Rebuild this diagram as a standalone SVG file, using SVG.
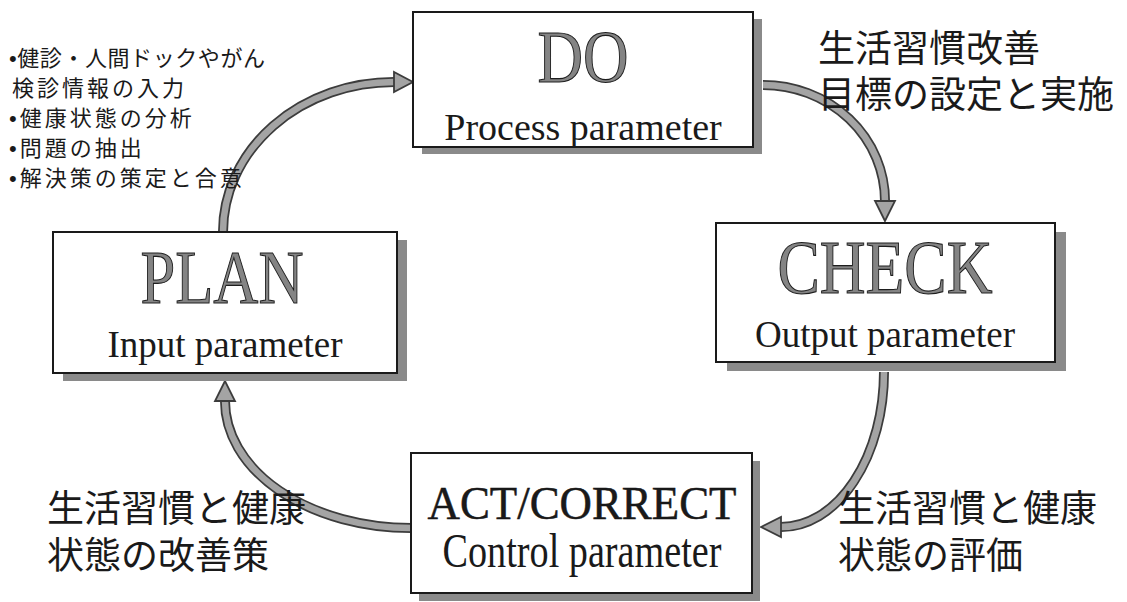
<svg xmlns="http://www.w3.org/2000/svg" width="1127" height="602" viewBox="0 0 1127 602">
<style>
.shadow{fill:#8a8a8a;}
.box{fill:#ffffff;stroke:#1a1a1a;stroke-width:2;}
.title{font-family:"Liberation Serif","Times New Roman",serif;fill:#848484;stroke:#1e1e1e;stroke-width:1.1;text-anchor:middle;}
.sub{font-family:"Liberation Serif","Times New Roman",serif;fill:#1a1a1a;text-anchor:middle;}
.jp{font-family:"Liberation Sans","Noto Sans CJK JP","Noto Sans CJK SC",sans-serif;fill:#1a1a1a;}
.ao{fill:none;stroke:#3c3c3c;stroke-width:10;}
.ai{fill:none;stroke:#a4a4a4;stroke-width:6.5;}
.ah{fill:#a4a4a4;stroke:#3c3c3c;stroke-width:1.8;stroke-linejoin:miter;}
</style>
<rect width="1127" height="602" fill="#ffffff"/>

<g id="connectors">
  <path class="ao" d="M223,232 A171,150 0 0 1 394,82"/>
  <path class="ai" d="M223,232 A171,150 0 0 1 394,82"/>
  <polygon class="ah" points="413,82 394,72 394,92"/>

  <path class="ao" d="M763,85 A122,116 0 0 1 885,201"/>
  <path class="ai" d="M763,85 A122,116 0 0 1 885,201"/>
  <polygon class="ah" points="885,221 875,201 895,201"/>

  <path class="ao" d="M884,372 A103,155 0 0 1 781,527"/>
  <path class="ai" d="M884,372 A103,155 0 0 1 781,527"/>
  <polygon class="ah" points="761,527 781,517 781,537"/>

  <path class="ao" d="M411,528 A186,127 0 0 1 225,401"/>
  <path class="ai" d="M411,528 A186,127 0 0 1 225,401"/>
  <polygon class="ah" points="225,381 215,401 235,401"/>
</g>

<g id="node-do">
  <rect class="shadow" x="422" y="19" width="340" height="135"/>
  <rect class="box" x="413" y="12" width="340" height="135"/>
  <text class="title" x="583" y="82" font-size="74" textLength="91" lengthAdjust="spacingAndGlyphs">DO</text>
  <text class="sub" x="583" y="140" font-size="38">Process parameter</text>
</g>

<g id="node-check">
  <rect class="shadow" x="727" y="232" width="339" height="139"/>
  <rect class="box" x="716" y="223" width="339" height="139"/>
  <text class="title" x="885" y="293" font-size="76" textLength="215" lengthAdjust="spacingAndGlyphs">CHECK</text>
  <text class="sub" x="885" y="347" font-size="37">Output parameter</text>
</g>

<g id="node-act">
  <rect class="shadow" x="419" y="461" width="341" height="140"/>
  <rect class="box" x="411" y="453" width="341" height="140"/>
  <text class="sub" x="582" y="519" font-size="47" textLength="309" lengthAdjust="spacingAndGlyphs" fill="#333" stroke="#111" stroke-width="0.5">ACT/CORRECT</text>
  <text class="sub" x="582" y="567" font-size="48" textLength="279" lengthAdjust="spacingAndGlyphs">Control parameter</text>
</g>

<g id="node-plan">
  <rect class="shadow" x="63" y="240" width="344" height="141"/>
  <rect class="box" x="53" y="232" width="344" height="141"/>
  <text class="title" x="222" y="303" font-size="76" textLength="163" lengthAdjust="spacingAndGlyphs">PLAN</text>
  <text class="sub" x="225" y="357" font-size="37">Input parameter</text>
</g>

<g id="labels">
  <g class="jp" font-size="22" letter-spacing="3">
    <text x="9" y="66" textLength="259" lengthAdjust="spacing">•健診・人間ドックやがん</text>
    <text x="12" y="96">検診情報の入力</text>
    <text x="9" y="126">•健康状態の分析</text>
    <text x="9" y="156">•問題の抽出</text>
    <text x="9" y="186">•解決策の策定と合意</text>
  </g>
  <g class="jp" font-size="37">
    <text x="818" y="62">生活習慣改善</text>
    <text x="818" y="108">目標の設定と実施</text>
    <text x="47" y="522">生活習慣と健康</text>
    <text x="47" y="569">状態の改善策</text>
    <text x="838" y="522">生活習慣と健康</text>
    <text x="838" y="569">状態の評価</text>
  </g>
</g>
</svg>
